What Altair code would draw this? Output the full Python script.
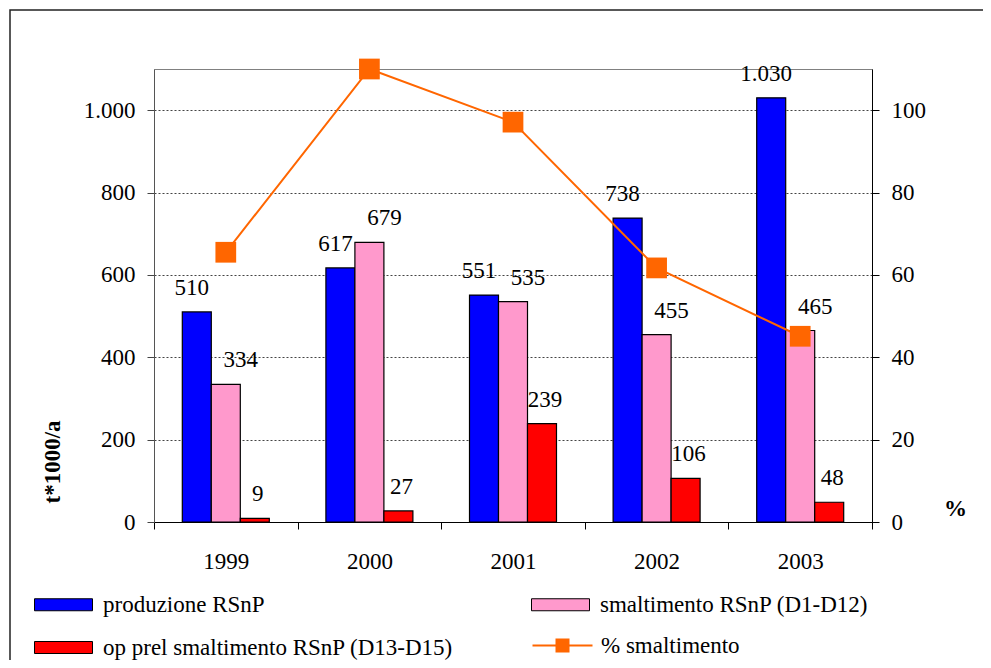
import altair as alt
import pandas as pd

F = "Liberation Serif"
FS = 23
BLUE, PINK, RED, ORANGE = "#0000FF", "#FF99CC", "#FF0000", "#FF6600"

years = ["1999", "2000", "2001", "2002", "2003"]
series_names = ["produzione RSnP", "smaltimento RSnP (D1-D12)", "op prel smaltimento RSnP (D13-D15)"]
produzione = [510, 617, 551, 738, 1030]
smaltimento = [334, 679, 535, 455, 465]
op_prel = [9, 27, 239, 106, 48]
line_name = "% smaltimento"
perc = [65.5, 110.0, 97.1, 61.7, 45.1]
left_ticks = [0, 200, 400, 600, 800, 1000]
right_ticks = [0, 20, 40, 60, 80, 100]

rows = []
for i, yr in enumerate(years):
    for s, vals in zip(series_names, [produzione, smaltimento, op_prel]):
        rows.append({"year": yr, "series": s, "value": vals[i]})
bar_df = pd.DataFrame(rows)
line_df = pd.DataFrame({"year": years, "perc": perc, "lbl": [line_name] * len(years)})

fmt = "replace(format(datum.value, ','), ',', '.')"

x_enc = alt.X(
    "year:N",
    scale=alt.Scale(domain=years, paddingInner=0, paddingOuter=0),
    axis=alt.Axis(title=None, labelAngle=0, labelFont=F, labelFontSize=FS, labelColor="black",
                  tickBand="extent", tickSize=7, tickColor="black", domainColor="black",
                  labelPadding=21),
)
xoff = alt.XOffset("series:N", scale=alt.Scale(domain=series_names, paddingInner=0, paddingOuter=0.976))

y_left = alt.Y(
    "value:Q",
    scale=alt.Scale(domain=[0, 1100], nice=False),
    axis=alt.Axis(values=left_ticks, labelExpr=fmt, grid=True, gridDash=[2, 2], gridColor="#444",
                  gridWidth=1, tickSize=7, tickColor="#444", domainColor="#555",
                  labelFont=F, labelFontSize=FS, labelColor="black", labelPadding=12,
                  title="t*1000/a", titleFont=F, titleFontSize=FS, titleFontWeight="bold",
                  titleColor="black", titleAngle=270, titleAlign="left", titleBaseline="alphabetic",
                  titleX=-95, titleY=434),
)

rect_path = "M-2.9,-0.6H2.9V0.6H-2.9Z"
line_path = "M-3,0H3M-0.6,-0.6H0.6V0.6H-0.6Z"

bars = alt.Chart(bar_df).mark_bar(stroke="black", strokeWidth=1.2).encode(
    x=x_enc,
    xOffset=xoff,
    y=y_left,
    fill=alt.Fill(
        "series:N",
        scale=alt.Scale(domain=series_names, range=[BLUE, PINK, RED]),
        legend=alt.Legend(orient="none", legendX=-102, legendY=524, columns=2, direction="horizontal",
                          title=None,
                          symbolType=rect_path, symbolSize=400, symbolStrokeColor="black",
                          symbolStrokeWidth=1, labelFont=F, labelFontSize=FS, labelColor="black",
                          labelLimit=700, labelOffset=28, columnPadding=75, rowPadding=19),
    ),
)

texts = []
for s, d in zip(series_names, [-5, 15, 3]):
    texts.append(
        alt.Chart(bar_df)
        .transform_filter(alt.datum.series == s)
        .transform_calculate(label=fmt)
        .mark_text(font=F, fontSize=FS, color="black", dy=-24, dx=d)
        .encode(x=x_enc, xOffset=xoff, y=y_left, text="label:N")
    )

y_right = alt.Y(
    "perc:Q",
    scale=alt.Scale(domain=[0, 110], nice=False),
    axis=alt.Axis(orient="right", values=right_ticks, grid=False, tickSize=7, tickColor="black",
                  domainColor="black", labelFont=F, labelFontSize=FS, labelColor="black",
                  labelPadding=12, title="%", titleFont=F, titleFontSize=FS, titleFontWeight="bold",
                  titleColor="black", titleAngle=0, titleAlign="center", titleBaseline="middle",
                  titleX=83, titleY=439),
)

line = alt.Chart(line_df).mark_line(strokeWidth=2).encode(
    x=x_enc,
    y=y_right,
    stroke=alt.Stroke(
        "lbl:N",
        scale=alt.Scale(domain=[line_name], range=[ORANGE]),
        legend=alt.Legend(orient="none", legendX=397, legendY=565, title=None,
                          symbolType=line_path, symbolSize=400, symbolStrokeColor=ORANGE,
                          symbolFillColor=ORANGE, symbolStrokeWidth=2, labelFont=F,
                          labelFontSize=FS, labelColor="black", labelLimit=700, labelOffset=27),
    ),
)
pts = alt.Chart(line_df).mark_square(size=430, color=ORANGE, opacity=1).encode(x=x_enc, y=y_right)

frame = alt.Chart(pd.DataFrame({"a": [0]})).mark_rect(fill="transparent", stroke="#222", strokeWidth=1.5).encode(
    x=alt.value(-144), x2=alt.value(1000), y=alt.value(-59), y2=alt.value(800)
)

left = alt.layer(bars, *texts)
right = alt.layer(line, pts)

chart = (
    alt.layer(frame, left, right)
    .resolve_scale(y="independent")
    .properties(width=718, height=453, padding={"left": 146, "top": 61, "right": 111, "bottom": 138},
                autosize=alt.AutoSizeParams(type="none"), background="white")
    .configure_view(stroke="#808080", strokeWidth=1)
)

chart.save("out.html", embed_options={"renderer": "svg", "actions": False})
